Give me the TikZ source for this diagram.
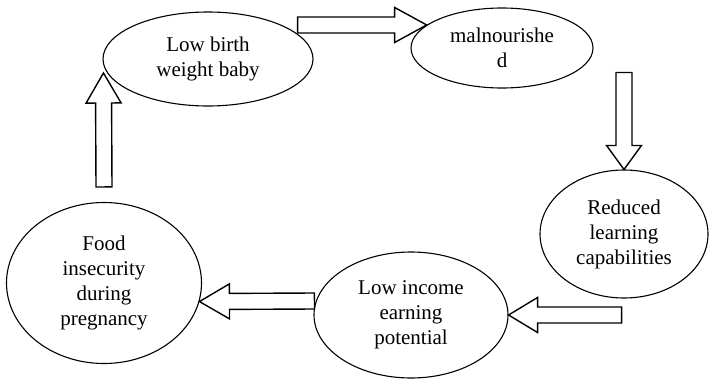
\documentclass[tikz,border=0pt]{standalone}
\usepackage{fontspec}
\setmainfont{Liberation Serif}
\usetikzlibrary{shapes.geometric,calc}

\tikzset{
  Bubble/.style={draw, ellipse, line width=1.1pt, inner sep=0pt, align=center,
    font=\fontsize{21}{25}\selectfont},
  FatArrow/.style={line width=1.4pt, line join=miter, to path={
    let \p1=(\tikztostart), \p2=(\tikztotarget),
        \n1={atan2(\y2-\y1,\x2-\x1)}, \n2={veclen(\x2-\x1,\y2-\y1)} in
    {[shift={(\p1)}, rotate=\n1]
      (0pt,8pt) -- ({\n2-#1pt},8pt) -- ({\n2-#1pt},17.5pt) -- (\n2,0pt)
      -- ({\n2-#1pt},-17.5pt) -- ({\n2-#1pt},-8pt) -- (0pt,-8pt) -- cycle}}},
  FatArrow/.default=30
}

\begin{document}
\begin{tikzpicture}[x=1pt, y=-1pt]
    \useasboundingbox (0,0) rectangle (709,380);
    % the five stages
    \node[Bubble, minimum width=210pt, minimum height=94pt]  (lbw)  at (208,59)  {Low birth\\weight baby};
    \node[Bubble, minimum width=182pt, minimum height=80pt]  (maln) at (502,48)  {malnourishe\\d};
    \node[Bubble, minimum width=168pt, minimum height=128pt] (rlc)  at (624,234) {Reduced\\learning\\capabilities};
    \node[Bubble, minimum width=194pt, minimum height=126pt] (lie)  at (411,315) {Low income\\earning\\potential};
    \node[Bubble, minimum width=195pt, minimum height=161pt] (fip)  at (104,283) {Food\\insecurity\\during\\pregnancy};
    %
    \draw[FatArrow=32] ($(lbw.east)+(-16,-34)$) to (maln.163);
    \draw[FatArrow=24] ($(rlc.north)+(0,-97)$) to (rlc.north);
    \draw[FatArrow=29] ($(lie.east)+(113,0)$) to (lie.east);
    \draw[FatArrow] ($(lie.west)+(1,-14)$) to (fip.-11);
    \draw[FatArrow] ($(fip.north)+(0,-15)$) to ($(lbw.west)+(1,14)$);
\end{tikzpicture}
\end{document}
